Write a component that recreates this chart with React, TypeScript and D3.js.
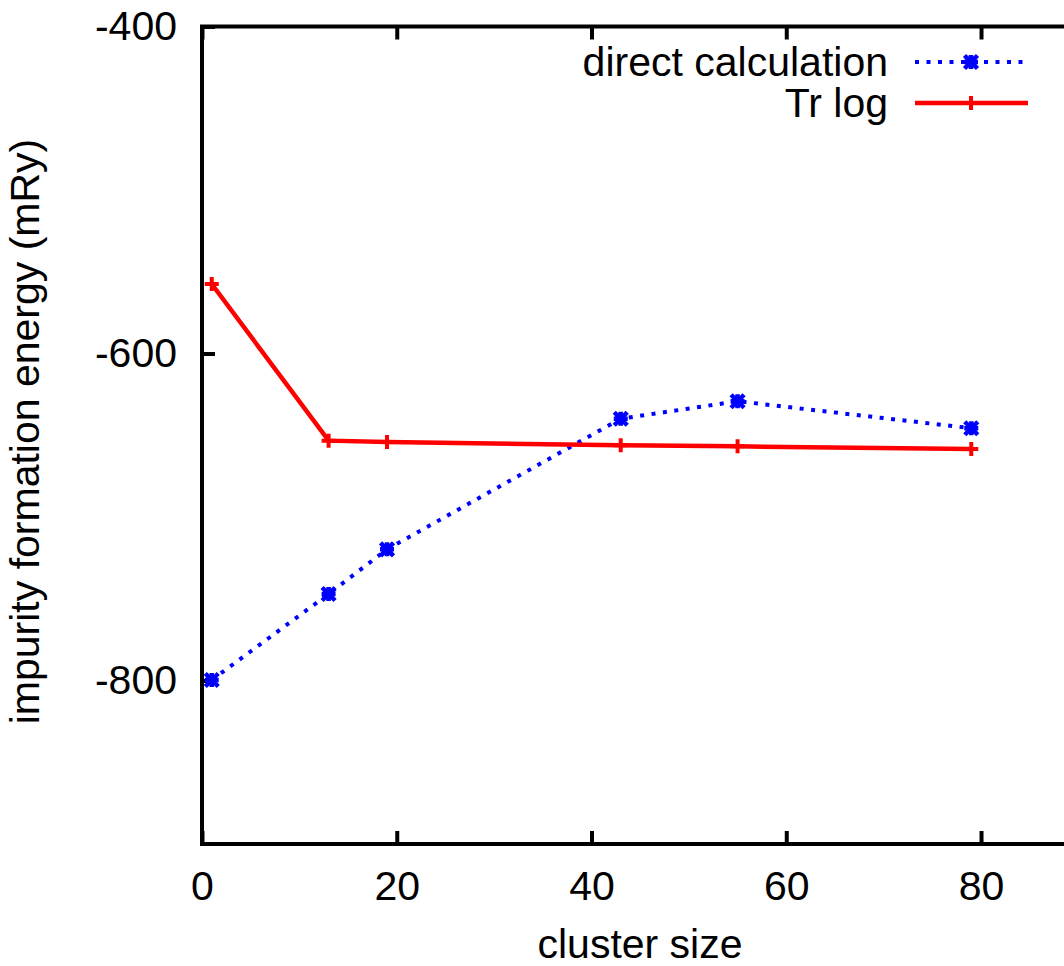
import React, { useEffect, useRef } from "react";
import * as d3 from "d3";

// cluster sizes (x) shared by both series
const clusterSizes = [1, 13, 19, 43, 55, 79];
// impurity formation energy (mRy)
const directCalculation = [-799.7, -747.1, -719.8, -639.9, -629.2, -645.7];
const trLog = [-557.5, -653.3, -654.1, -656.1, -656.8, -658.4];

const xTicks = [0, 20, 40, 60, 80];
const yTicks = [-800, -600, -400];

const App = () => {
  const ref = useRef<SVGSVGElement | null>(null);

  useEffect(() => {
    const width = 1064;
    const height = 966;
    const left = 202;
    const top = 26.5;
    const bottom = 844;
    const font = "'Liberation Sans', Arial, Helvetica, sans-serif";

    const svg = d3.select(ref.current);
    svg.selectAll("*").remove();
    svg.attr("width", width).attr("height", height);

    const x = d3.scaleLinear().domain([0, 90]).range([left, 1078.4]);
    const y = d3.scaleLinear().domain([-900, -400]).range([bottom, top]);

    // ticks (inward, mirrored on top); plain hyphen for negatives like gnuplot
    const plain = (d: any) => String(d);
    const styleAxis = (g: any) => {
      g.select(".domain").remove();
      g.selectAll(".tick line").attr("stroke", "#000").attr("stroke-width", 4);
      g.selectAll(".tick text")
        .attr("fill", "#000")
        .style("font-family", font)
        .style("font-size", "41px");
    };

    svg
      .append("g")
      .attr("transform", `translate(0,${bottom})`)
      .call(d3.axisBottom(x).tickValues(xTicks).tickSize(-13).tickPadding(27).tickFormat(plain))
      .call(styleAxis);

    svg
      .append("g")
      .attr("transform", `translate(0,${top})`)
      .call(d3.axisTop(x).tickValues(xTicks).tickSize(-13).tickFormat(() => ""))
      .call(styleAxis);

    svg
      .append("g")
      .attr("transform", `translate(${left},0)`)
      .call(d3.axisLeft(y).tickValues(yTicks).tickSize(-13).tickPadding(25).tickFormat(plain))
      .call(styleAxis);

    // frame
    svg
      .append("rect")
      .attr("x", left)
      .attr("y", top)
      .attr("width", x(90) - left)
      .attr("height", bottom - top)
      .attr("fill", "none")
      .attr("stroke", "#000")
      .attr("stroke-width", 4);

    // axis labels
    svg
      .append("text")
      .attr("x", 640)
      .attr("y", 958)
      .attr("text-anchor", "middle")
      .style("font-family", font)
      .style("font-size", "41px")
      .text("cluster size");

    svg
      .append("text")
      .attr("transform", "translate(38.5,431.5) rotate(-90)")
      .attr("text-anchor", "middle")
      .style("font-family", font)
      .style("font-size", "41px")
      .text("impurity formation energy (mRy)");

    const line = d3
      .line<number>()
      .x((_, i) => x(clusterSizes[i]))
      .y((d) => y(d));

    const plot = svg.append("g");

    const starPath = (cx: number, cy: number) =>
      `M${cx - 7},${cy}H${cx + 7}M${cx},${cy - 7}V${cy + 7}` +
      `M${cx - 6.5},${cy - 6.5}L${cx + 6.5},${cy + 6.5}M${cx - 6.5},${cy + 6.5}L${cx + 6.5},${cy - 6.5}`;
    const plusPath = (cx: number, cy: number) =>
      `M${cx - 7},${cy}H${cx + 7}M${cx},${cy - 7}V${cy + 7}`;

    // direct calculation (blue dotted, asterisks)
    plot
      .append("path")
      .datum(directCalculation)
      .attr("d", line)
      .attr("fill", "none")
      .attr("stroke", "#0000ff")
      .attr("stroke-width", 4)
      .attr("stroke-dasharray", "4 7.5");

    plot
      .selectAll(".blue-pt")
      .data(directCalculation)
      .enter()
      .append("path")
      .attr("class", "blue-pt")
      .attr("d", (d, i) => starPath(x(clusterSizes[i]), y(d)))
      .attr("stroke", "#0000ff")
      .attr("stroke-width", 4.5);

    // Tr log (red solid, plus)
    plot
      .append("path")
      .datum(trLog)
      .attr("d", line)
      .attr("fill", "none")
      .attr("stroke", "#ff0000")
      .attr("stroke-width", 4.5);

    plot
      .selectAll(".red-pt")
      .data(trLog)
      .enter()
      .append("path")
      .attr("class", "red-pt")
      .attr("d", (d, i) => plusPath(x(clusterSizes[i]), y(d)))
      .attr("stroke", "#ff0000")
      .attr("stroke-width", 4);

    // legend
    const legend = svg.append("g");
    const rows = [
      { label: "direct calculation", color: "#0000ff", dash: "4 7.5", marker: starPath, cy: 62 },
      { label: "Tr log", color: "#ff0000", dash: null, marker: plusPath, cy: 103 },
    ];
    rows.forEach((r) => {
      legend
        .append("text")
        .attr("x", 888)
        .attr("y", r.cy + 14)
        .attr("text-anchor", "end")
        .style("font-family", font)
        .style("font-size", "41px")
        .text(r.label);
      legend
        .append("line")
        .attr("x1", 915)
        .attr("x2", 1028)
        .attr("y1", r.cy)
        .attr("y2", r.cy)
        .attr("stroke", r.color)
        .attr("stroke-width", r.dash ? 4 : 4.5)
        .attr("stroke-dasharray", r.dash);
      legend
        .append("path")
        .attr("d", r.marker(971, r.cy))
        .attr("stroke", r.color)
        .attr("stroke-width", r.dash ? 4.5 : 4);
    });
  }, []);

  return (
    <div style={{ position: "absolute", left: 0, top: 0 }}>
      <svg ref={ref} style={{ display: "block", background: "#fff" }}></svg>
    </div>
  );
};

export default App;
